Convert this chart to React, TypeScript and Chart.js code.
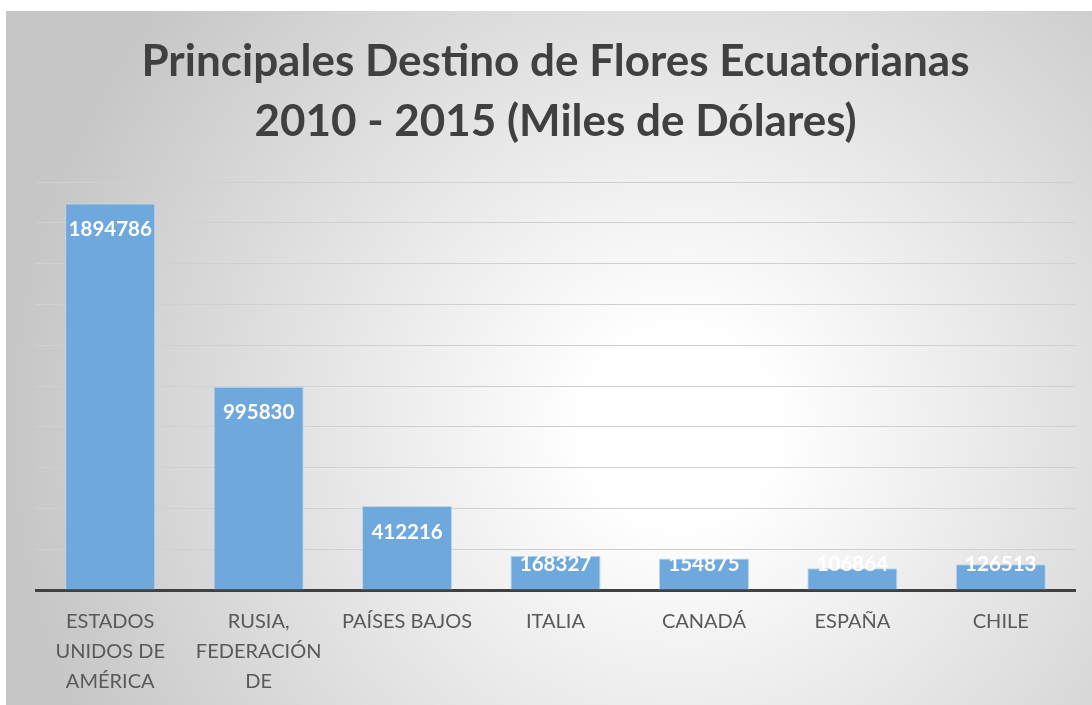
import React, { useEffect, useRef } from "react";
import { Chart, registerables } from "chart.js";

Chart.register(...registerables);

const titleLines = ["Principales Destino de Flores Ecuatorianas", "2010 - 2015 (Miles de Dólares)"];
const categories: string[][] = [
  ["ESTADOS", "UNIDOS DE", "AMÉRICA"],
  ["RUSIA,", "FEDERACIÓN", "DE"],
  ["PAÍSES BAJOS"],
  ["ITALIA"],
  ["CANADÁ"],
  ["ESPAÑA"],
  ["CHILE"],
];
const values = [1894786, 995830, 412216, 168327, 154875, 106864, 126513];
const yMax = 2000000;
const yStep = 200000;

const labelPlugin = {
  id: "barLabels",
  afterDatasetsDraw(chart: any) {
    const ctx = chart.ctx;
    const meta = chart.getDatasetMeta(0);
    ctx.save();
    ctx.fillStyle = "#ffffff";
    ctx.font = "bold 20.5px Lato";
    ctx.textAlign = "center";
    ctx.textBaseline = "middle";
    meta.data.forEach((bar: any, i: number) => {
      const y = Math.min(bar.y + 26, bar.base - 25);
      ctx.fillText(String(values[i]), bar.x, y);
    });
    ctx.restore();
  },
};

const clipPlugin = {
  id: "clipRight",
  beforeDraw(chart: any) {
    const ctx = chart.ctx;
    ctx.save();
    ctx.beginPath();
    ctx.rect(0, 0, chart.chartArea.right + 1, chart.height);
    ctx.clip();
  },
  afterDraw(chart: any) {
    chart.ctx.restore();
  },
};

export default function App() {
  const ref = useRef<HTMLCanvasElement>(null);
  useEffect(() => {
    if (!ref.current) return;
    const chart = new Chart(ref.current, {
      type: "bar",
      data: {
        labels: categories,
        datasets: [
          {
            data: values,
            backgroundColor: "#6FA8DC",
            borderColor: "#BDD7EE",
            borderWidth: 1,
            categoryPercentage: 1,
            barPercentage: 0.607,
          },
        ],
      },
      options: {
        animation: false,
        responsive: false,
        maintainAspectRatio: false,
        layout: { padding: { left: 30, right: 17, top: 0, bottom: 0 } },
        plugins: {
          legend: { display: false },
          tooltip: { enabled: false },
          title: {
            display: true,
            text: titleLines,
            color: "#404040",
            font: { family: "Lato", size: 44, weight: "bold", lineHeight: 1.364 },
            padding: { top: 21, bottom: 30 },
          },
        },
        scales: {
          x: {
            grid: { display: false, drawTicks: false },
            border: { display: true, color: "#404040", width: 3 },
            ticks: {
              color: "#595959",
              font: { family: "Lato", size: 20, lineHeight: 1.5 },
              padding: 17,
              maxRotation: 0,
              autoSkip: false,
            },
            afterFit(scale: any) {
              scale.height = 115;
            },
          },
          y: {
            min: 0,
            max: yMax,
            ticks: { display: false, stepSize: yStep },
            grid: { color: "#d0d0d0", lineWidth: 1, drawTicks: false },
            border: { display: false },
          },
        },
      },
      plugins: [clipPlugin, labelPlugin],
    });
    return () => chart.destroy();
  }, []);
  return (
    <div style={{ position: "absolute", left: 0, top: 0, width: 1092, height: 705, background: "#ffffff", overflow: "hidden" }}>
      <div
        style={{
          position: "absolute",
          left: 6,
          top: 11,
          width: 1086,
          height: 694,
          background: "radial-gradient(circle at 62% 60%, #ffffff 12%, #c6c6c6 85%)",
        }}
      >
        <canvas ref={ref} width={1086} height={694} style={{ display: "block" }} />
      </div>
    </div>
  );
}
